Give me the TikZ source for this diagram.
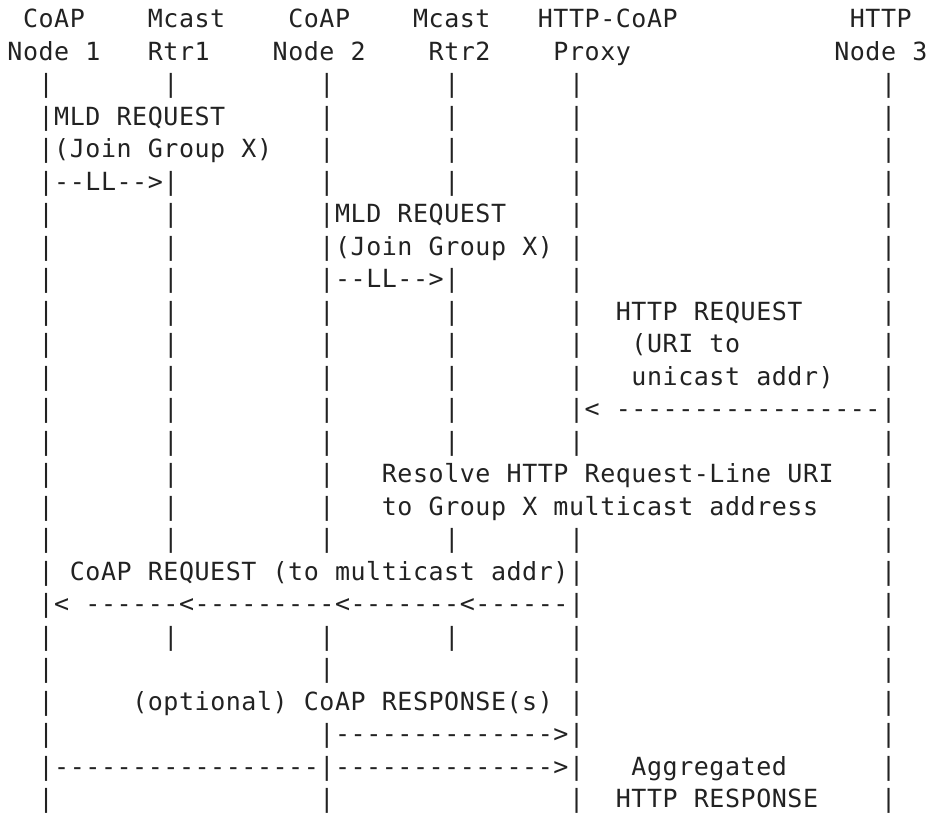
\documentclass[tikz,border=0pt]{standalone}
\usepackage{fontspec}
\setmonofont{DejaVu Sans Mono}
\ExplSyntaxOn
\cs_new_protected:Npn \gridtext #1
  { \str_map_inline:nn {#1} { \hbox_to_wd:nn {15.6pt} { \hss ##1 \hss } } }
\ExplSyntaxOff
\definecolor{ink}{RGB}{34,34,34}
\tikzset{txt/.style={anchor=base west, inner sep=0pt, outer sep=0pt,
  font=\ttfamily\fontsize{25pt}{25pt}\selectfont, text=ink}}
\newcommand\seg[3]{\node[txt] (r#1c#2) at ({7.2pt+#2*15.6pt},{813pt-28pt-(#1-1)*32.5pt}) {\gridtext{#3}};}
\newcommand\pipes[2]{\foreach \cc in {#2} {\seg{#1}{\cc}{|}}}
\begin{document}
\begin{tikzpicture}
\path[fill=white] (0,0) rectangle (927pt,813pt);
\useasboundingbox (0,0) rectangle (927pt,813pt);
% row 1
\seg{1}{1}{CoAP}\seg{1}{9}{Mcast}\seg{1}{18}{CoAP}\seg{1}{26}{Mcast}\seg{1}{34}{HTTP-CoAP}\seg{1}{54}{HTTP}
% row 2
\seg{2}{0}{Node 1}\seg{2}{9}{Rtr1}\seg{2}{17}{Node 2}\seg{2}{27}{Rtr2}\seg{2}{35}{Proxy}\seg{2}{53}{Node 3}
% row 3
\pipes{3}{2,10,20,28,36,56}
% rows 4-6
\seg{4}{2}{|MLD REQUEST}\pipes{4}{20,28,36,56}
\seg{5}{2}{|(Join Group X)}\pipes{5}{20,28,36,56}
\seg{6}{2}{|--LL-->|}\pipes{6}{20,28,36,56}
% rows 7-9
\pipes{7}{2,10}\seg{7}{20}{|MLD REQUEST}\pipes{7}{36,56}
\pipes{8}{2,10}\seg{8}{20}{|(Join Group X) |}\pipes{8}{56}
\pipes{9}{2,10}\seg{9}{20}{|--LL-->|}\pipes{9}{36,56}
% rows 10-13
\pipes{10}{2,10,20,28,36}\seg{10}{39}{HTTP REQUEST}\pipes{10}{56}
\pipes{11}{2,10,20,28,36}\seg{11}{40}{(URI to}\pipes{11}{56}
\pipes{12}{2,10,20,28,36}\seg{12}{40}{unicast addr)}\pipes{12}{56}
\pipes{13}{2,10,20,28}\seg{13}{36}{|< -----------------|}
% row 14
\pipes{14}{2,10,20,28,36,56}
% rows 15-16
\pipes{15}{2,10,20}\seg{15}{24}{Resolve HTTP Request-Line URI}\pipes{15}{56}
\pipes{16}{2,10,20}\seg{16}{24}{to Group X multicast address}\pipes{16}{56}
% row 17
\pipes{17}{2,10,20,28,36,56}
% rows 18-19
\seg{18}{2}{| CoAP REQUEST (to multicast addr)|}\pipes{18}{56}
\seg{19}{2}{|< ------<---------<-------<------|}\pipes{19}{56}
% rows 20-21
\pipes{20}{2,10,20,28,36,56}
\pipes{21}{2,20,36,56}
% rows 22-25
\pipes{22}{2}\seg{22}{8}{(optional) CoAP RESPONSE(s) |}\pipes{22}{56}
\pipes{23}{2}\seg{23}{20}{|-------------->|}\pipes{23}{56}
\seg{24}{2}{|-----------------|-------------->|}\seg{24}{40}{Aggregated}\pipes{24}{56}
\pipes{25}{2,20,36}\seg{25}{39}{HTTP RESPONSE}\pipes{25}{56}
\end{tikzpicture}
\end{document}
